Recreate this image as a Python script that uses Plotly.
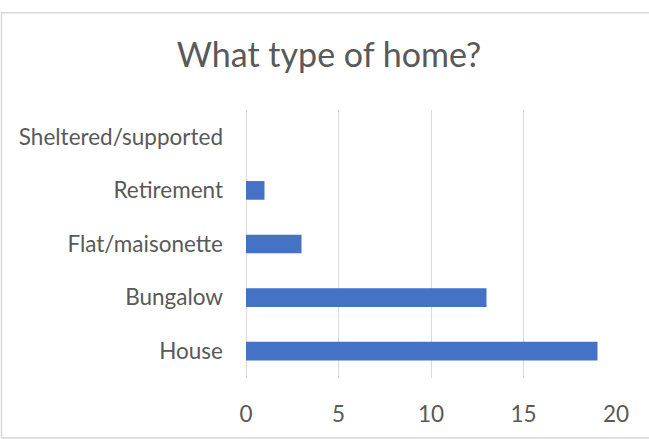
import plotly.graph_objects as go

# Survey responses: type of home
categories = ["House", "Bungalow", "Flat/maisonette", "Retirement", "Sheltered/supported"]
counts = [19, 13, 3, 1, 0]
x_ticks = [0, 5, 10, 15, 20]

W, H = 649, 439
L, R, T, B = 246, 33, 110, 56
pw, ph = W - L - R, H - T - B

text_color = "#595959"
grid_color = "#d9d9d9"
font_family = "Lato, 'Open Sans', sans-serif"
label_size = 22.5

fig = go.Figure(
    go.Bar(
        x=counts,
        y=categories,
        orientation="h",
        marker=dict(color="#4472c4", line=dict(width=0)),
        hoverinfo="x+y",
    )
)

# Outer chart frame (light grey), running off the right and bottom edges
fig.add_shape(
    type="rect",
    xref="paper", yref="paper",
    x0=(1.5 - L) / pw, x1=1 + (R + 5) / pw,
    y0=-(B + 5) / ph, y1=1 + (T - 11) / ph,
    line=dict(color=grid_color, width=1.5),
    fillcolor="rgba(0,0,0,0)",
    layer="below",
)

fig.update_layout(
    width=W, height=H,
    margin=dict(l=L, r=R, t=T, b=B, pad=0),
    paper_bgcolor="white",
    plot_bgcolor="white",
    bargap=0.652,
    showlegend=False,
    font=dict(family=font_family, color=text_color),
    title=dict(
        text="What type of home?",
        x=329 / W, xanchor="center", xref="container",
        y=1 - 55 / H, yanchor="middle", yref="container",
        font=dict(size=34, color=text_color, family=font_family),
    ),
    xaxis=dict(
        range=[0, 20],
        tickvals=x_ticks,
        showgrid=True, gridcolor=grid_color, gridwidth=1.3,
        zeroline=True, zerolinecolor=grid_color, zerolinewidth=1.3,
        showline=False,
        ticks="",
        tickfont=dict(size=label_size, color=text_color),
        ticklabelstandoff=20,
        fixedrange=True,
    ),
    yaxis=dict(
        categoryorder="array", categoryarray=categories,
        showgrid=False, zeroline=False, showline=False,
        ticks="",
        tickfont=dict(size=label_size, color=text_color),
        ticklabelstandoff=22,
        fixedrange=True,
    ),
)

fig.write_html("out.html")
